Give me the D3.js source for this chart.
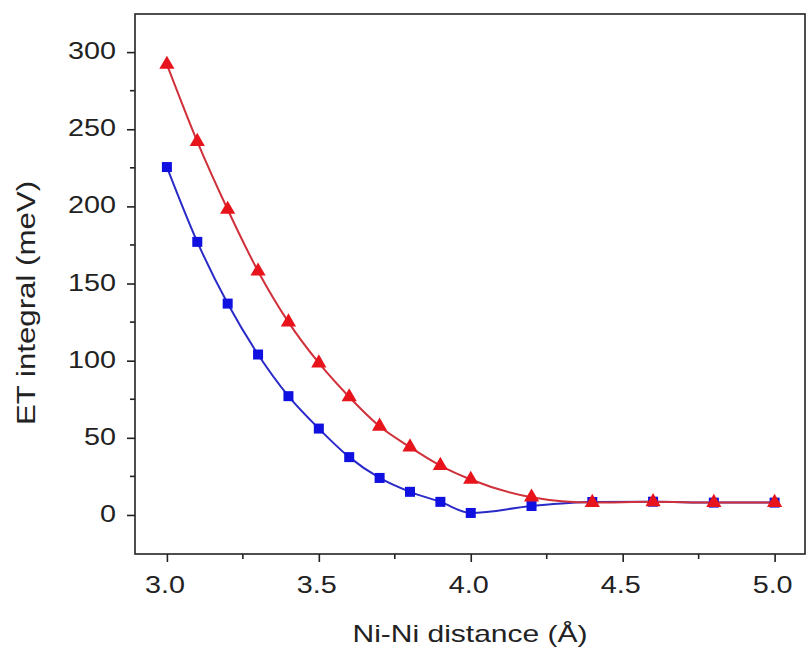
<!DOCTYPE html>
<html><head><meta charset="utf-8">
<script src="https://cdn.jsdelivr.net/npm/d3@7"></script>
<style>body{margin:0;background:#fff}svg{display:block}</style>
</head><body><svg id="c" width="811" height="651"></svg>
<script>
const xVals = [3.0,3.1,3.2,3.3,3.4,3.5,3.6,3.7,3.8,3.9,4.0,4.2,4.4,4.6,4.8,5.0];
const redVals = [292,242,198,158,125,98.5,76.5,57.5,44,32,23,11.5,8,8.5,8,8];
const blueVals = [225.5,177,137,104,77,56,37.5,24,15,8.5,1.3,5.8,8.4,8.6,8,8];
const xTicks = [3.0,3.5,4.0,4.5,5.0];
const yTicks = [0,50,100,150,200,250,300];
const xLabel = "Ni-Ni distance (Å)";
const yLabel = "ET integral (meV)";

const svg = d3.select("#c");
const L=135,R=805,T=14,B=554;
const SX=1.25;
const x = d3.scaleLinear().domain([2.895,5.1]).range([L,R]);
const y = d3.scaleLinear().domain([-25.3,324.7]).range([B,T]);
const font = "'Liberation Sans', Arial, sans-serif";
const ink = "#222";

// frame
svg.append("rect").attr("x",L).attr("y",T).attr("width",R-L).attr("height",B-T)
  .attr("fill","none").attr("stroke",ink).attr("stroke-width",1.6);

// x axis ticks (via axis generator), labels drawn stretched
const gx = svg.append("g").attr("transform",`translate(0,${B})`);
gx.call(d3.axisBottom(x).tickValues(xTicks).tickFormat("").tickSize(8))
  .call(g=>g.select(".domain").remove());
gx.selectAll(".tick line").attr("stroke",ink).attr("stroke-width",1.6);
gx.selectAll(".minor").data(d3.range(3.25,5.1,0.5)).enter().append("line").attr("class","minor")
  .attr("x1",d=>x(d)).attr("x2",d=>x(d)).attr("y1",0).attr("y2",5).attr("stroke",ink).attr("stroke-width",1.6);
svg.selectAll(".xl").data(xTicks).enter().append("text")
  .attr("transform",d=>`translate(${x(d)-2},593) scale(${SX},1)`).attr("text-anchor","middle")
  .attr("font-family",font).attr("font-size",23).attr("fill",ink).text(d3.format(".1f"));

// y axis
const gy = svg.append("g").attr("transform",`translate(${L},0)`);
gy.call(d3.axisLeft(y).tickValues(yTicks).tickFormat("").tickSize(8))
  .call(g=>g.select(".domain").remove());
gy.selectAll(".tick line").attr("stroke",ink).attr("stroke-width",1.6);
gy.selectAll(".minor").data(d3.range(25,325,50)).enter().append("line").attr("class","minor")
  .attr("y1",d=>y(d)).attr("y2",d=>y(d)).attr("x1",0).attr("x2",-5).attr("stroke",ink).attr("stroke-width",1.6);
svg.selectAll(".yl").data(yTicks).enter().append("text")
  .attr("transform",d=>`translate(116,${y(d)+7}) scale(${SX},1)`).attr("text-anchor","end")
  .attr("font-family",font).attr("font-size",23).attr("fill",ink).text(d=>d);

// titles
svg.append("text").attr("transform",`translate(470,642) scale(${SX},1)`).attr("text-anchor","middle")
  .attr("font-family",font).attr("font-size",24).attr("fill",ink).text(xLabel);
svg.append("text").attr("transform",`translate(35,303) rotate(-90) scale(${SX},1)`).attr("text-anchor","middle")
  .attr("font-family",font).attr("font-size",25).attr("fill",ink).text(yLabel);

const blue = xVals.map((v,i)=>[v,blueVals[i]]);
const red = xVals.map((v,i)=>[v,redVals[i]]);

svg.append("path").datum(blue).attr("fill","none").attr("stroke","#2a2ac8").attr("stroke-width",2)
  .attr("d",d3.line().x(d=>x(d[0])).y(d=>y(d[1])).curve(d3.curveMonotoneX));
svg.append("path").datum(red).attr("fill","none").attr("stroke","#d0303a").attr("stroke-width",2)
  .attr("d",d3.line().x(d=>x(d[0])).y(d=>y(d[1])).curve(d3.curveMonotoneX));

svg.selectAll(".sq").data(blue).enter().append("rect")
  .attr("x",d=>x(d[0])-5).attr("y",d=>y(d[1])-5).attr("width",10).attr("height",10).attr("fill","#1010e0");
const tri = d3.symbol().type(d3.symbolTriangle).size(100);
svg.selectAll(".tr").data(red).enter().append("path")
  .attr("transform",d=>`translate(${x(d[0])},${y(d[1])})`).attr("d",tri).attr("fill","#e8141c");
</script></body></html>
